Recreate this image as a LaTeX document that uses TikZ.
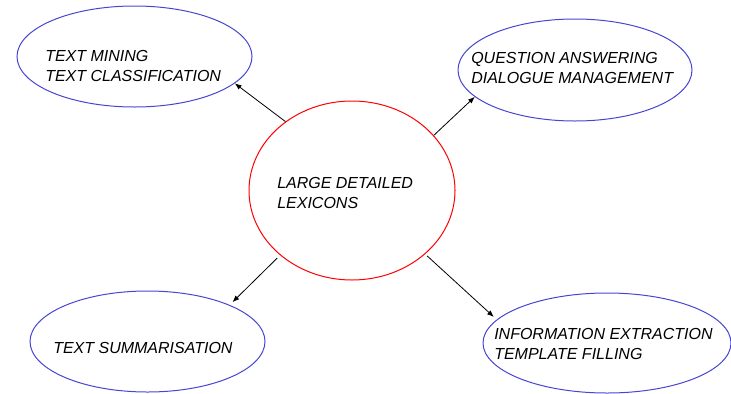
\documentclass[tikz,border=0pt]{standalone}
\usepackage{fontspec}
\setmainfont{Liberation Sans}
\usetikzlibrary{shapes.geometric,arrows.meta}
\definecolor{rimblue}{RGB}{70,70,210}
\tikzset{
	topic/.style={ellipse, draw=rimblue, line width=0.75pt, inner sep=0pt},
	core/.style={ellipse, draw=red, line width=0.75pt, inner sep=0pt},
	lbl/.style={anchor=north west, inner sep=0pt, align=left, font=\fontsize{12}{14.8}\selectfont\itshape},
	link/.style={-{Latex[length=5pt,width=4pt]}, line width=0.6pt}
}

\begin{document}
\begin{tikzpicture}[x=0.75pt, y=-0.75pt]
			%%%%% START %%%%%
			
			\useasboundingbox (0, 0) rectangle (731, 393);
			
			\node[core, minimum width=206*0.75pt, minimum height=179*0.75pt] (lex) at (352, 190.5) {};
			\node[lbl] (lextxt) at (277, 177) {LARGE DETAILED\\LEXICONS};
			
			\node[topic, minimum width=235*0.75pt, minimum height=101*0.75pt] (tm) at (134.5, 56.5) {};
			\node[lbl] (tmtxt) at (45, 50) {TEXT MINING\\TEXT CLASSIFICATION};
			
			\node[topic, minimum width=234*0.75pt, minimum height=102*0.75pt] (qa) at (575, 70) {};
			\node[lbl] (qatxt) at (471, 52) {QUESTION ANSWERING\\DIALOGUE MANAGEMENT};
			
			\node[topic, minimum width=235*0.75pt, minimum height=101*0.75pt] (ts) at (147.5, 341.5) {};
			\node[lbl] (tstxt) at (53, 342) {TEXT SUMMARISATION};
			
			\node[topic, minimum width=248*0.75pt, minimum height=100*0.75pt] (ie) at (607, 343) {};
			\node[lbl] (ietxt) at (494, 328) {INFORMATION EXTRACTION\\TEMPLATE FILLING};
			
			\draw[link] (lex.134) -- (tm.-15);
			\draw[link] (lex.34) -- (qa.195);
			\draw[link, shorten <=3pt, shorten >=3pt] (lex.222) -- (ts.24);
			\draw[link, shorten <=2pt, shorten >=3pt] (lex.-41) -- (ie.168);
			
			%%%%% END %%%%%
		\end{tikzpicture}
\end{document}
